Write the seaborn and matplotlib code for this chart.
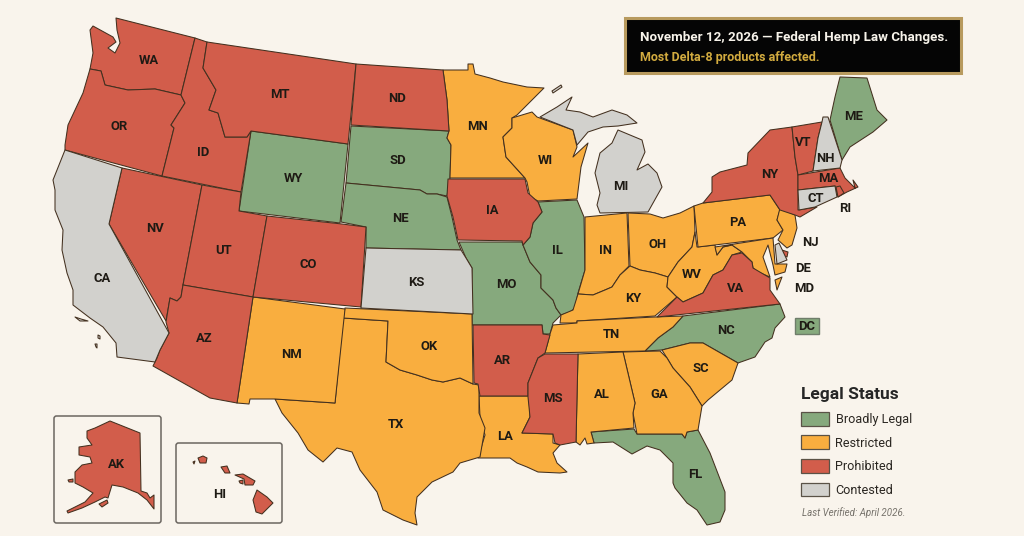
import matplotlib
matplotlib.use("Agg")
import matplotlib.pyplot as plt
from matplotlib.patches import FancyBboxPatch, Patch, Rectangle
import seaborn as sns

# legend classes and colours
statuses = ["Broadly Legal", "Restricted", "Prohibited", "Contested"]
status_colors = ["#86a97d", "#f9ae3f", "#d25d4b", "#d2d1cd"]

# state outlines in pixels
wa = [(116,18),(195,38),(181,95),(155,89),(128,90),(105,85),(101,71),(90,69),(93,53),(90,30),(93,26),(113,37),(116,42),(108,48),(115,53),(120,43),(117,30)]
or_ = [(90,69),(101,71),(105,85),(128,90),(155,89),(181,95),(185,103),(171,125),(174,128),(162,176),(65,150),(65,145),(68,125),(83,93)]
id_ = [(195,38),(207,42),(203,68),(216,90),(209,110),(218,113),(225,137),(247,137),(251,131),(241,192),(162,176),(174,128),(171,125),(185,103),(181,95)]
mt = [(207,42),(356,64),(348,144),(251,131),(247,137),(225,137),(218,113),(209,110),(216,90),(203,68)]
nd = [(356,64),(443,70),(447,100),(449,131),(351,125)]
mn = [(443,70),(468,70),(468,64),(473,64),(475,74),(490,78),(503,82),(527,87),(544,88),(517,115),(512,118),(512,128),(503,137),(506,157),(525,178),(450,178),(451,145),(447,138),(449,131),(447,100)]
wi = [(512,118),(532,112),(537,117),(573,130),(577,147),(573,157),(588,143),(581,167),(577,199),(538,201),(530,197),(527,182),(525,178),(506,157),(503,137),(512,128)]
mi_up = [(540,117),(557,107),(572,97),(566,110),(580,112),(593,117),(612,110),(627,115),(637,123),(618,126),(603,127),(588,132),(577,145),(573,130)]
mi_low = [(618,130),(642,140),(645,152),(637,170),(648,164),(657,173),(662,187),(648,212),(600,213),(597,205),(600,193),(595,173),(600,153),(612,143),(617,132)]
mi_isle = [(552,91),(561,85),(562,87),(553,93)]
sd = [(351,126),(449,131),(447,138),(451,145),(450,178),(447,196),(437,194),(427,194),(420,190),(346,183)]
ne = [(346,183),(420,190),(427,194),(437,194),(447,197),(452,217),(457,240),(461,250),(366,248),(366,227),(341,222)]
ks = [(366,248),(461,250),(466,258),(472,268),(473,314),(361,308)]
ia = [(448,179),(525,179),(528,193),(538,202),(542,212),(533,223),(530,237),(523,245),(522,241),(458,240),(453,217),(447,196)]
il = [(538,202),(577,200),(584,217),(585,270),(578,293),(575,308),(570,312),(561,315),(556,308),(553,300),(541,288),(541,275),(530,262),(523,245),(530,237),(533,223),(542,212)]
mo = [(459,242),(522,242),(523,245),(530,262),(541,275),(541,288),(553,300),(556,308),(561,315),(553,323),(550,334),(543,334),(542,325),(472,325),(472,268),(466,258)]
in_ = [(585,217),(627,213),(629,266),(620,275),(612,287),(605,290),(593,295),(578,294),(585,270)]
oh = [(628,213),(650,214),(663,218),(680,213),(694,206),(695,232),(692,247),(678,262),(668,277),(655,273),(640,270),(630,266)]
ky = [(630,266),(640,270),(655,273),(668,277),(667,287),(677,297),(655,316),(577,321),(577,323),(560,323),(561,315),(573,310),(578,294),(593,295),(605,290),(612,287),(620,275)]
wv = [(695,232),(697,247),(715,245),(717,255),(723,247),(732,245),(742,252),(732,255),(723,270),(713,275),(703,293),(683,302),(677,297),(667,287),(668,277),(678,262),(692,247)]
pa = [(694,206),(703,203),(770,195),(780,210),(777,220),(783,230),(773,238),(698,247)]
ny = [(703,203),(712,192),(712,177),(720,172),(747,165),(748,153),(770,130),(792,127),(795,157),(798,175),(798,210),(817,207),(800,217),(795,215),(780,210),(770,195)]
vt = [(792,127),(822,122),(818,138),(813,171),(798,175),(795,157)]
nh = [(822,122),(823,117),(828,117),(842,160),(840,168),(813,171),(818,138)]
me = [(830,120),(835,97),(840,77),(867,78),(877,110),(887,120),(873,132),(850,147),(842,160)]
ma = [(798,175),(840,168),(845,178),(855,188),(853,180),(858,187),(847,192),(838,197),(835,186),(798,190)]
ct = [(798,190),(835,186),(837,197),(815,207),(799,210)]
ri = [(836,187),(840,186),(844,193),(838,197)]
nj = [(780,208),(795,215),(797,228),(792,245),(787,248),(778,240),(783,230),(777,220)]
de = [(775,245),(779,243),(787,260),(777,264)]
dc_spot = [(782,250),(788,252),(787,257),(784,256)]
md = [(715,247),(773,238),(775,264),(787,264),(785,272),(775,275),(773,265),(768,245),(763,257),(770,277),(758,272),(753,268),(752,262),(742,252),(732,245),(723,247),(717,255)]
va_shore = [(782,277),(777,290),(775,280)]
va = [(657,317),(677,297),(683,302),(703,293),(713,275),(723,270),(732,255),(742,253),(752,262),(753,268),(770,278),(770,290),(780,304)]
nc = [(645,351),(658,338),(673,327),(683,316),(780,304),(785,317),(775,328),(772,338),(765,342),(755,357),(738,363),(703,343),(690,343),(662,350)]
tn = [(577,321),(655,317),(683,316),(673,327),(658,338),(645,351),(545,353),(550,334),(553,325),(577,323)]
sc = [(662,350),(690,343),(703,343),(738,363),(732,380),(708,400),(702,406),(690,387),(673,368),(667,358)]
ga = [(623,352),(660,351),(667,358),(673,368),(690,387),(702,406),(698,430),(687,432),(685,438),(682,434),(637,434),(633,413),(635,403)]
al = [(578,354),(623,352),(635,403),(633,413),(634,428),(591,432),(594,443),(587,444),(585,438),(580,445),(576,442),(577,397)]
fl = [(591,432),(634,429),(637,434),(682,434),(685,438),(687,432),(698,430),(710,453),(725,492),(725,510),(720,522),(707,525),(697,510),(687,503),(675,488),(673,483),(673,463),(660,450),(647,446),(632,454),(613,442),(594,443)]
ms = [(545,354),(578,354),(576,442),(560,445),(555,443),(553,434),(522,433),(530,417),(528,397),(528,383),(538,358)]
ar = [(473,325),(542,325),(543,334),(550,335),(545,353),(538,358),(528,383),(528,396),(480,396),(478,384),(474,383)]
la = [(479,396),(529,396),(530,417),(522,433),(553,434),(553,443),(560,445),(553,453),(557,463),(567,472),(560,473),(538,472),(527,467),(517,463),(510,458),(490,458),(478,458),(485,435),(480,417)]
tx = [(343,318),(388,321),(386,362),(400,370),(417,375),(432,380),(443,382),(460,378),(473,384),(479,385),(479,413),(485,428),(480,457),(460,463),(453,472),(432,482),(417,497),(415,513),(417,525),(403,520),(383,510),(377,492),(360,470),(352,452),(337,448),(323,462),(308,450),(298,433),(282,413),(275,399),(335,403)]
ok = [(345,308),(472,314),(473,384),(460,378),(443,382),(432,380),(417,375),(400,370),(386,362),(388,321),(343,318)]
nm = [(253,297),(345,309),(335,403),(275,399),(250,399),(249,404),(237,403)]
az = [(183,285),(253,297),(237,403),(210,398),(153,366),(157,358),(160,350),(169,333),(166,322),(170,298),(177,301),(181,297)]
nv = [(122,168),(202,185),(183,285),(181,297),(177,301),(170,298),(166,321),(109,224)]
ut = [(202,185),(241,192),(239,211),(267,216),(253,297),(183,285)]
co = [(267,216),(342,224),(366,227),(361,307),(253,297)]
wy = [(251,131),(348,144),(340,223),(239,211)]
ca = [(65,150),(122,168),(109,224),(169,333),(160,350),(155,362),(117,357),(116,343),(103,327),(90,318),(73,305),(73,290),(67,273),(62,250),(63,230),(55,210),(55,190),(53,180)]
ca_isle1 = [(75,317),(81,319),(88,321),(80,321)]
ca_isle2 = [(98,335),(100,336),(100,339),(98,338)]
ca_isle3 = [(95,344),(97,344),(97,348),(96,347)]
ak = [(87,431),(95,428),(110,421),(140,433),(141,491),(147,493),(150,498),(154,495),(154,509),(147,500),(138,493),(123,487),(112,485),(108,498),(105,497),(95,502),(82,508),(68,513),(67,511),(85,502),(93,493),(83,487),(75,483),(75,472),(82,465),(92,463),(90,457),(79,455),(79,447),(92,445),(87,438)]
ak_kodiak = [(99,504),(107,500),(108,503),(102,507)]
ak_nunivak = [(68,480),(73,479),(73,482),(69,482)]
hi_big = [(257,490),(267,497),(273,503),(262,514),(256,512),(253,500)]
hi_maui = [(235,475),(243,474),(255,481),(253,485),(245,485),(244,479)]
hi_oahu = [(221,467),(227,466),(230,473),(225,473)]
hi_kauai = [(198,458),(203,456),(207,458),(206,463),(200,463)]
hi_niihau = [(193,462),(195,461),(194,464)]
hi_kaho = [(239,481),(243,480),(243,484),(240,483)]

green_shapes = [wy, sd, ne, mo, il, nc, fl, me]
orange_shapes = [mn, wi, in_, oh, ky, wv, pa, nj, md, va_shore, tn, sc, ga, al, la, tx, ok, nm]
red_shapes = [wa, or_, id_, mt, nd, nv, ut, co, az, ia, ar, ms, va, ny, vt, ma, ri, dc_spot,
              ak, ak_kodiak, ak_nunivak, hi_big, hi_maui, hi_oahu, hi_kauai, hi_niihau, hi_kaho]
gray_shapes = [ca, ca_isle1, ca_isle2, ca_isle3, ks, mi_up, mi_low, mi_isle, nh, ct, de]

# state labels
label_names = ["WA","OR","ID","MT","ND","SD","WY","NE","NV","UT","CO","CA","AZ","NM","OK","TX","KS","MN","WI","MI","IA","MO","IL","IN","OH","KY","TN","AR","LA","MS","AL","GA","SC","NC","FL","VA","WV","PA","NY","VT","NH","ME","MA","CT","RI","NJ","DE","MD","DC","AK","HI"]
label_x = [149,119,203,280,397,398,293,400,155,224,308,102,204,291,429,396,416,478,545,621,492,506,557,606,658,633,611,503,505,553,602,659,701,726,695,736,692,738,770,803,825,854,828,816,845,810,803,804,807,116,220]
label_y = [60,127,152,95,98,160,179,219,228,250,265,279,339,354,346,424,283,127,161,186,210,285,250,250,245,298,335,360,436,399,394,394,369,330,475,289,274,223,175,142,158,116,178,199,209,243,268,289,326,464,495]

bg = "#f9f4ec"
edge = "#43301f"

sns.set_theme(style="white")
plt.rcParams["font.family"] = ["Roboto", "DejaVu Sans"]
palette = sns.color_palette(status_colors)

fig = plt.figure(figsize=(10.24, 5.36), dpi=100, facecolor=bg)
ax = fig.add_axes([0, 0, 1, 1], facecolor=bg)
ax.set_xlim(0, 1024)
ax.set_ylim(536, 0)
ax.axis("off")

for color, shapes in zip(palette, [green_shapes, orange_shapes, red_shapes, gray_shapes]):
    for shape in shapes:
        xs = [p[0] for p in shape]
        ys = [p[1] for p in shape]
        ax.fill(xs, ys, facecolor=color, edgecolor=edge, linewidth=0.75, joinstyle="round")

# inset frames
for (x0, y0, w, h) in [(54, 416, 107, 107), (176, 443, 106, 80)]:
    ax.add_patch(FancyBboxPatch((x0, y0), w, h, boxstyle="round,pad=0,rounding_size=2.5",
                                fill=False, edgecolor="#6b6660", linewidth=1.1, zorder=0))

# DC box
ax.add_patch(Rectangle((795, 318), 24, 16, facecolor=status_colors[0], edgecolor="#6f7d6a", linewidth=1.0))

for name, x, y in zip(label_names, label_x, label_y):
    ax.text(x, y, name, ha="center", va="center", fontsize=9.4, fontweight="bold", color="#1e1a14")

# callout
ax.add_patch(Rectangle((625, 18), 336, 55, facecolor="#050505", edgecolor="#b89a5e", linewidth=2.2))
ax.text(640, 37, "November 12, 2026 \u2014 Federal Hemp Law Changes.", color="#f7f3ea", fontsize=9.6,
        fontweight="bold", va="center", ha="left")
ax.text(640, 57, "Most Delta-8 products affected.", color="#d2ab3f", fontsize=9.0,
        fontweight="bold", va="center", ha="left")

# legend
handles = [Patch(facecolor=c, edgecolor="#5a5246", linewidth=0.9, label=s) for c, s in zip(palette, statuses)]
leg = ax.legend(handles=handles, title="Legal Status", loc="upper left", bbox_to_anchor=(790 / 1024, 1 - 376 / 536),
                frameon=False, alignment="left", fontsize=9.1, handlelength=2.15, handleheight=1.3,
                labelspacing=0.75, handletextpad=0.55, title_fontproperties={"weight": "bold", "size": 12.5})
for t in leg.get_texts():
    t.set_color("#2b2722")

ax.text(802, 513, "Last Verified: April 2026.", fontsize=7.0, style="italic", color="#77736c", va="center", ha="left")

sns.despine(ax=ax, left=True, bottom=True)
fig.savefig("out.png", dpi=100, facecolor=bg)
